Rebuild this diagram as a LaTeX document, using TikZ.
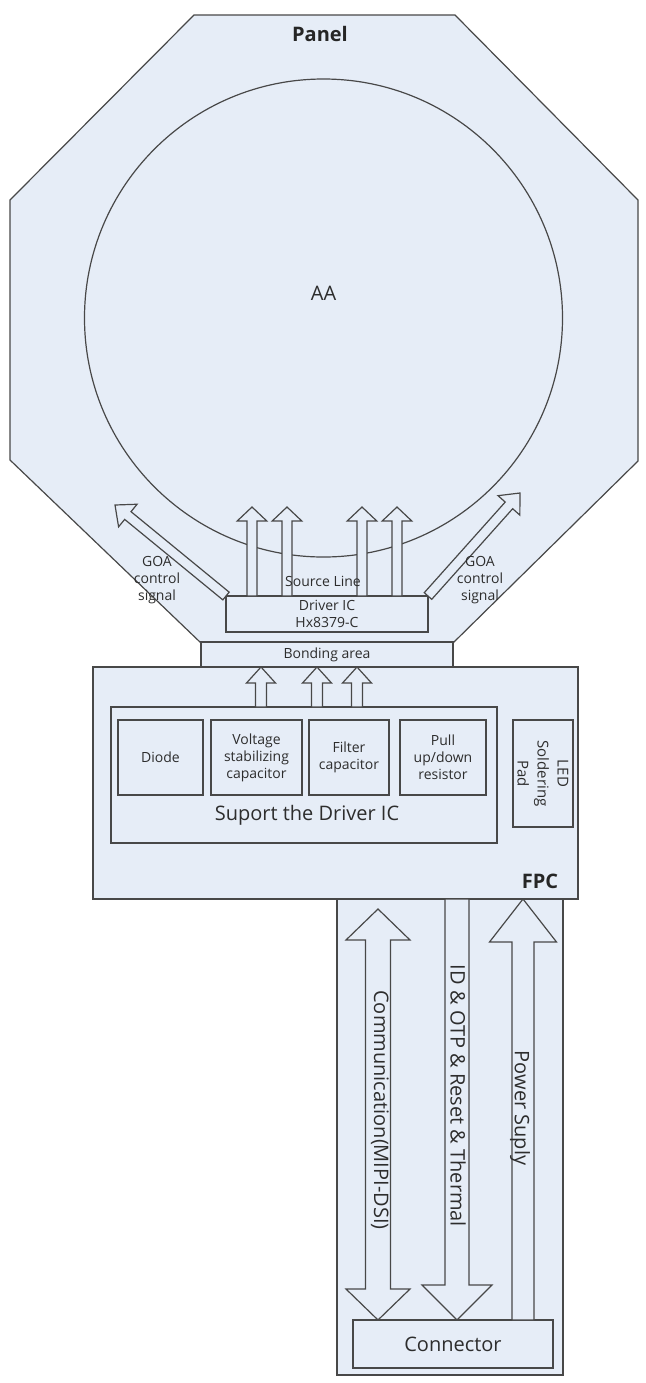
\documentclass[tikz,border=0pt]{standalone}
\usepackage{fontspec}
\setmainfont{Open Sans}
\usetikzlibrary{calc,positioning}
\definecolor{panelblue}{RGB}{230,237,247}
\definecolor{edgegray}{RGB}{72,72,72}
\definecolor{textgray}{RGB}{45,45,45}
\tikzset{
  blockfill/.style={fill=panelblue,draw=edgegray,line width=0.6pt},
  blockbox/.style={blockfill,rectangle,inner sep=0pt,outer sep=0pt,align=center,text=textgray,font=\fontsize{7}{8.5}\selectfont},
  smalltext/.style={text=textgray,align=center,inner sep=0pt,font=\fontsize{7}{8.5}\selectfont},
  bigtext/.style={text=textgray,align=center,inner sep=0pt,font=\fontsize{10}{12}\selectfont},
  boldtext/.style={text=black!85,inner sep=0pt,font=\fontsize{10}{12}\selectfont\bfseries},
}
% hollow block arrow: tail, tip, half shaft, half head, head length
\newcommand\fatarrow[5]{%
  \coordinate (fa-b) at ($(#2)!#5!(#1)$);
  \draw[blockfill] ($(#1)!#3!90:(#2)$) -- ($(fa-b)!#3!90:(#2)$) -- ($(fa-b)!#4!90:(#2)$) -- (#2)
    -- ($(fa-b)!#4!-90:(#2)$) -- ($(fa-b)!#3!-90:(#2)$) -- ($(#1)!#3!-90:(#2)$) -- cycle;}
\newcommand\fatdarrow[5]{%
  \coordinate (fa-p) at ($(#1)!#5!(#2)$);
  \coordinate (fa-q) at ($(#2)!#5!(#1)$);
  \draw[blockfill] (#1) -- ($(fa-p)!#4!90:(#2)$) -- ($(fa-p)!#3!90:(#2)$) -- ($(fa-q)!#3!90:(#2)$)
    -- ($(fa-q)!#4!90:(#2)$) -- (#2) -- ($(fa-q)!#4!-90:(#2)$) -- ($(fa-q)!#3!-90:(#2)$)
    -- ($(fa-p)!#3!-90:(#2)$) -- ($(fa-p)!#4!-90:(#2)$) -- cycle;}
\begin{document}
\begin{tikzpicture}[x=0.5pt,y=-0.5pt]
  \useasboundingbox (0,0) rectangle (645,1383);
  % panel
  \draw[blockfill] (194,15) -- (455,15) -- (638,200) -- (638,461) -- (453,643)
    -- (201,643) -- (10,460) -- (10,200) -- cycle;
  \node[blockfill,circle,minimum size=239pt,inner sep=0pt,outer sep=0pt] (aa) at (323.5,318) {};
  \node[bigtext] (aalbl) at ([yshift=12.5pt]aa.center) {AA};
  \node[boldtext] (panellbl) at (320,34) {Panel};
  \node[blockbox,minimum width=101pt,minimum height=18pt] (drv) at (327,614) {Driver IC\\Hx8379-C};
  \node[blockbox,minimum width=126pt,minimum height=12.5pt] (bond) at (327,654.5) {Bonding area};
  \foreach \x [count=\i] in {252,287,362,397} {
    \coordinate (sl\i) at (\x,0 |- drv.north);
    \coordinate (st\i) at (\x,507);
    \fatarrow{sl\i}{st\i}{2.5pt}{7.4pt}{7pt}
  }
  \coordinate (goal) at (115,505);
  \coordinate (goar) at (520,493);
  \fatarrow{drv.north west}{goal}{2.5pt}{7.3pt}{8.3pt}
  \fatarrow{drv.north east}{goar}{2.5pt}{7.3pt}{8.3pt}
  \node[smalltext] (srclbl) at (323,581) {Source Line};
  \node[smalltext] (goallbl) at (157,580) {GOA\\control\\signal};
  \node[smalltext] (goarlbl) at (480,580) {GOA\\control\\signal};
  % FPC
  \node[blockbox,minimum width=113pt,minimum height=238pt] (tail) at (450,1137) {};
  \node[blockbox,minimum width=242.5pt,minimum height=116pt] (fpc) at (335.5,783) {};
  \node[boldtext] (fpclbl) at (540,881) {FPC};
  \node[blockbox,minimum width=193pt,minimum height=68pt] (sup) at (304,775) {};
  \node[bigtext] (suplbl) at (307,815) {Suport the Driver IC};
  \node[blockbox,minimum width=42.5pt,minimum height=37.5pt] (diode) at (160.5,757.5) {Diode};
  \node[blockbox,minimum width=45.5pt,minimum height=37.5pt] (volt) at (256.5,757.5) {Voltage\\stabilizing\\capacitor};
  \node[blockbox,minimum width=40pt,minimum height=37.5pt] (filt) at (349,757.5) {Filter\\capacitor};
  \node[blockbox,minimum width=43pt,minimum height=37.5pt] (pull) at (443,757.5) {Pull\\up/down\\resistor};
  \node[blockbox,rotate=-90,minimum width=53.5pt,minimum height=30pt,font=\fontsize{7.5}{10}\selectfont] (led) at (543,773.5) {LED\\Soldering\\Pad};
  \node[blockbox,minimum width=126pt,minimum height=12.5pt] at (bond) {Bonding area};
  \foreach \x [count=\i] in {261,317,357} {
    \coordinate (su\i) at (\x,0 |- sup.north);
    \coordinate (bo\i) at (\x,0 |- bond.south);
    \fatarrow{su\i}{bo\i}{2.75pt}{7.25pt}{8pt}
  }
  % connector side
  \node[blockbox,minimum width=100pt,minimum height=24pt,font=\fontsize{10}{12}\selectfont] (conn) at (453,1344) {Connector};
  \coordinate (commtop) at (378,909);
  \coordinate (commbot) at (378,0 |- conn.north);
  \coordinate (idtop) at (457,0 |- fpc.south);
  \coordinate (idbot) at (457,0 |- conn.north);
  \coordinate (pwrbot) at (523,0 |- conn.north);
  \coordinate (pwrtop) at (523,0 |- fpc.south);
  \fatdarrow{commtop}{commbot}{6.25pt}{16pt}{15.5pt}
  \fatarrow{idtop}{idbot}{6pt}{17.5pt}{17.5pt}
  \fatarrow{pwrbot}{pwrtop}{5.5pt}{16.75pt}{21.5pt}
  \node[bigtext,rotate=-90] (commlbl) at (380,1110) {Communication(MIPI-DSI)};
  \node[bigtext,rotate=-90] (idlbl) at (458,1096) {ID \& OTP \& Reset \& Thermal};
  \node[bigtext,rotate=-90] (pwrlbl) at (520,1108) {Power Suply};
\end{tikzpicture}
\end{document}
